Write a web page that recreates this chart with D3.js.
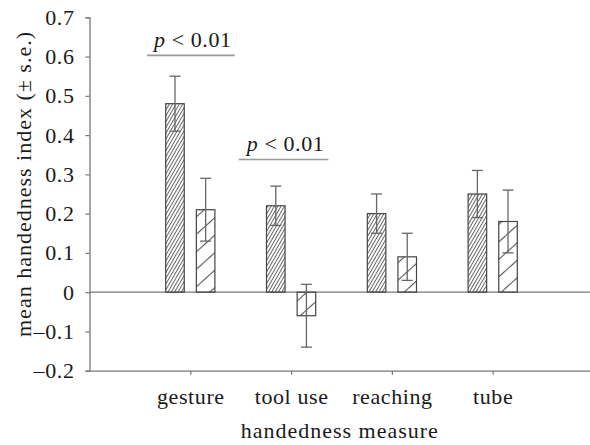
<!doctype html>
<html lang="en">
  <head>
    <meta charset="UTF-8" />
    <title>Mean handedness index</title>
    <style>
      body {
        margin: 0;
        background: #fff;
      }
      svg {
        display: block;
      }
      svg text {
        font-family: "Liberation Serif", "Times New Roman", Times, serif !important;
        fill: #1a1a1a;
        letter-spacing: 0.6px;
      }
      svg text.title {
        letter-spacing: 1px;
      }
    </style>
  </head>
  <body>
    <script src="https://d3js.org/d3.v7.min.js"></script>
    <script>
      // Data
      const categories = ["gesture", "tool use", "reaching", "tube"];
      const darkMean = [0.48, 0.22, 0.2, 0.25];
      const darkLow = [0.41, 0.17, 0.15, 0.19];
      const darkHigh = [0.55, 0.27, 0.25, 0.31];
      const lightMean = [0.21, -0.06, 0.09, 0.18];
      const lightLow = [0.13, -0.14, 0.03, 0.1];
      const lightHigh = [0.29, 0.02, 0.15, 0.26];
      const yTicks = [0.7, 0.6, 0.5, 0.4, 0.3, 0.2, 0.1, 0, -0.1, -0.2];
      // significance brackets: [x start, x end] in category units, y level
      const sigLabels = ["p", "p"];
      const sigFrom = [0.57, 1.48];
      const sigTo = [1.44, 2.37];
      const sigLevel = [0.603, 0.338];

      const width = 590;
      const height = 445;

      const svg = d3
        .select("body")
        .append("svg")
        .attr("width", width)
        .attr("height", height);

      const y = d3.scaleLinear().domain([-0.2, 0.7]).range([370.7, 17.3]);
      // category i sits at position i + 1
      const x = d3.scaleLinear().domain([0, 5]).range([89.5, 593.5]);

      const barOffset = 0.152;
      const barWidth = x(0.184) - x(0);
      const capHalf = 5.5;

      // hatch patterns
      const defs = svg.append("defs");
      defs
        .append("pattern")
        .attr("id", "dense")
        .attr("patternUnits", "userSpaceOnUse")
        .attr("width", 10)
        .attr("height", 2.9)
        .attr("patternTransform", "rotate(-60)")
        .append("line")
        .attr("x1", 0)
        .attr("x2", 10)
        .attr("y1", 1.45)
        .attr("y2", 1.45)
        .attr("stroke", "#555")
        .attr("stroke-width", 0.9);

      defs
        .append("pattern")
        .attr("id", "sparse")
        .attr("patternUnits", "userSpaceOnUse")
        .attr("width", 10)
        .attr("height", 13)
        .attr("patternTransform", "rotate(-42)")
        .append("line")
        .attr("x1", 0)
        .attr("x2", 10)
        .attr("y1", 6.5)
        .attr("y2", 6.5)
        .attr("stroke", "#555")
        .attr("stroke-width", 1.1);

      // y axis
      const yAxis = svg
        .append("g")
        .attr("transform", `translate(${x(0)},0)`)
        .call(
          d3
            .axisLeft(y)
            .tickValues(yTicks)
            .tickSize(4)
            .tickPadding(11)
            .tickFormat((d) => (d < 0 ? "\u2013" + Math.abs(d) : d + "")),
        );
      yAxis.attr("font-family", null);
      yAxis.select(".domain").attr("stroke", "#777").attr("stroke-width", 1.3);
      yAxis.selectAll(".tick line").attr("stroke", "#777").attr("stroke-width", 1.2);
      yAxis.selectAll(".tick text").attr("font-size", 22);

      // x axis at bottom
      const xAxis = svg
        .append("g")
        .attr("transform", `translate(0,${y(-0.2)})`)
        .call(
          d3
            .axisBottom(x)
            .tickValues([1, 2, 3, 4])
            .tickSize(4)
            .tickSizeOuter(0)
            .tickPadding(14)
            .tickFormat((d) => categories[d - 1]),
        );
      xAxis.attr("font-family", null);
      xAxis.select(".domain").attr("stroke", "#777").attr("stroke-width", 1.3);
      xAxis.selectAll(".tick line").attr("stroke", "#777").attr("stroke-width", 1.2);
      xAxis.selectAll(".tick text").attr("font-size", 22);

      // zero line
      svg
        .append("line")
        .attr("x1", x(0))
        .attr("x2", width)
        .attr("y1", y(0))
        .attr("y2", y(0))
        .attr("stroke", "#777")
        .attr("stroke-width", 1.3);

      // bars
      function drawSeries(means, lows, highs, off, fillId) {
        const g = svg.append("g");
        g.selectAll("rect")
          .data(means)
          .join("rect")
          .attr("x", (d, i) => x(i + 1 + off) - barWidth / 2)
          .attr("width", barWidth)
          .attr("y", (d) => y(Math.max(0, d)))
          .attr("height", (d) => Math.abs(y(d) - y(0)))
          .attr("fill", `url(#${fillId})`)
          .attr("stroke", "#444")
          .attr("stroke-width", 1.2);

        const eb = g
          .selectAll("g.err")
          .data(means)
          .join("g")
          .attr("class", "err")
          .attr("stroke", "#666")
          .attr("stroke-width", 1.3);
        eb.append("line")
          .attr("x1", (d, i) => x(i + 1 + off))
          .attr("x2", (d, i) => x(i + 1 + off))
          .attr("y1", (d, i) => y(highs[i]))
          .attr("y2", (d, i) => y(lows[i]));
        eb.append("line")
          .attr("x1", (d, i) => x(i + 1 + off) - capHalf)
          .attr("x2", (d, i) => x(i + 1 + off) + capHalf)
          .attr("y1", (d, i) => y(highs[i]))
          .attr("y2", (d, i) => y(highs[i]));
        eb.append("line")
          .attr("x1", (d, i) => x(i + 1 + off) - capHalf)
          .attr("x2", (d, i) => x(i + 1 + off) + capHalf)
          .attr("y1", (d, i) => y(lows[i]))
          .attr("y2", (d, i) => y(lows[i]));
      }

      drawSeries(darkMean, darkLow, darkHigh, -barOffset, "dense");
      drawSeries(lightMean, lightLow, lightHigh, barOffset, "sparse");

      // significance brackets
      sigLabels.forEach((lab, i) => {
        svg
          .append("line")
          .attr("x1", x(sigFrom[i]))
          .attr("x2", x(sigTo[i]))
          .attr("y1", y(sigLevel[i]))
          .attr("y2", y(sigLevel[i]))
          .attr("stroke", "#999")
          .attr("stroke-width", 1.6);
        const t = svg
          .append("text")
          .attr("x", (x(sigFrom[i]) + x(sigTo[i])) / 2 + 2)
          .attr("y", y(sigLevel[i]) - 8)
          .attr("text-anchor", "middle")
          .attr("font-size", 22);
        t.append("tspan").attr("font-style", "italic").text(lab);
        t.append("tspan").text(" < 0.01");
      });

      // axis titles
      svg
        .append("text")
        .attr("class", "title")
        .attr("x", (x(0) + width) / 2)
        .attr("y", 438)
        .attr("text-anchor", "middle")
        .attr("font-size", 22)
        .text("handedness measure");

      svg
        .append("text")
        .attr("class", "title")
        .attr("transform", `translate(31,${184}) rotate(-90)`)
        .attr("text-anchor", "middle")
        .attr("font-size", 22)
        .text("mean handedness index (\u00b1 s.e.)");
    </script>
  </body>
</html>
